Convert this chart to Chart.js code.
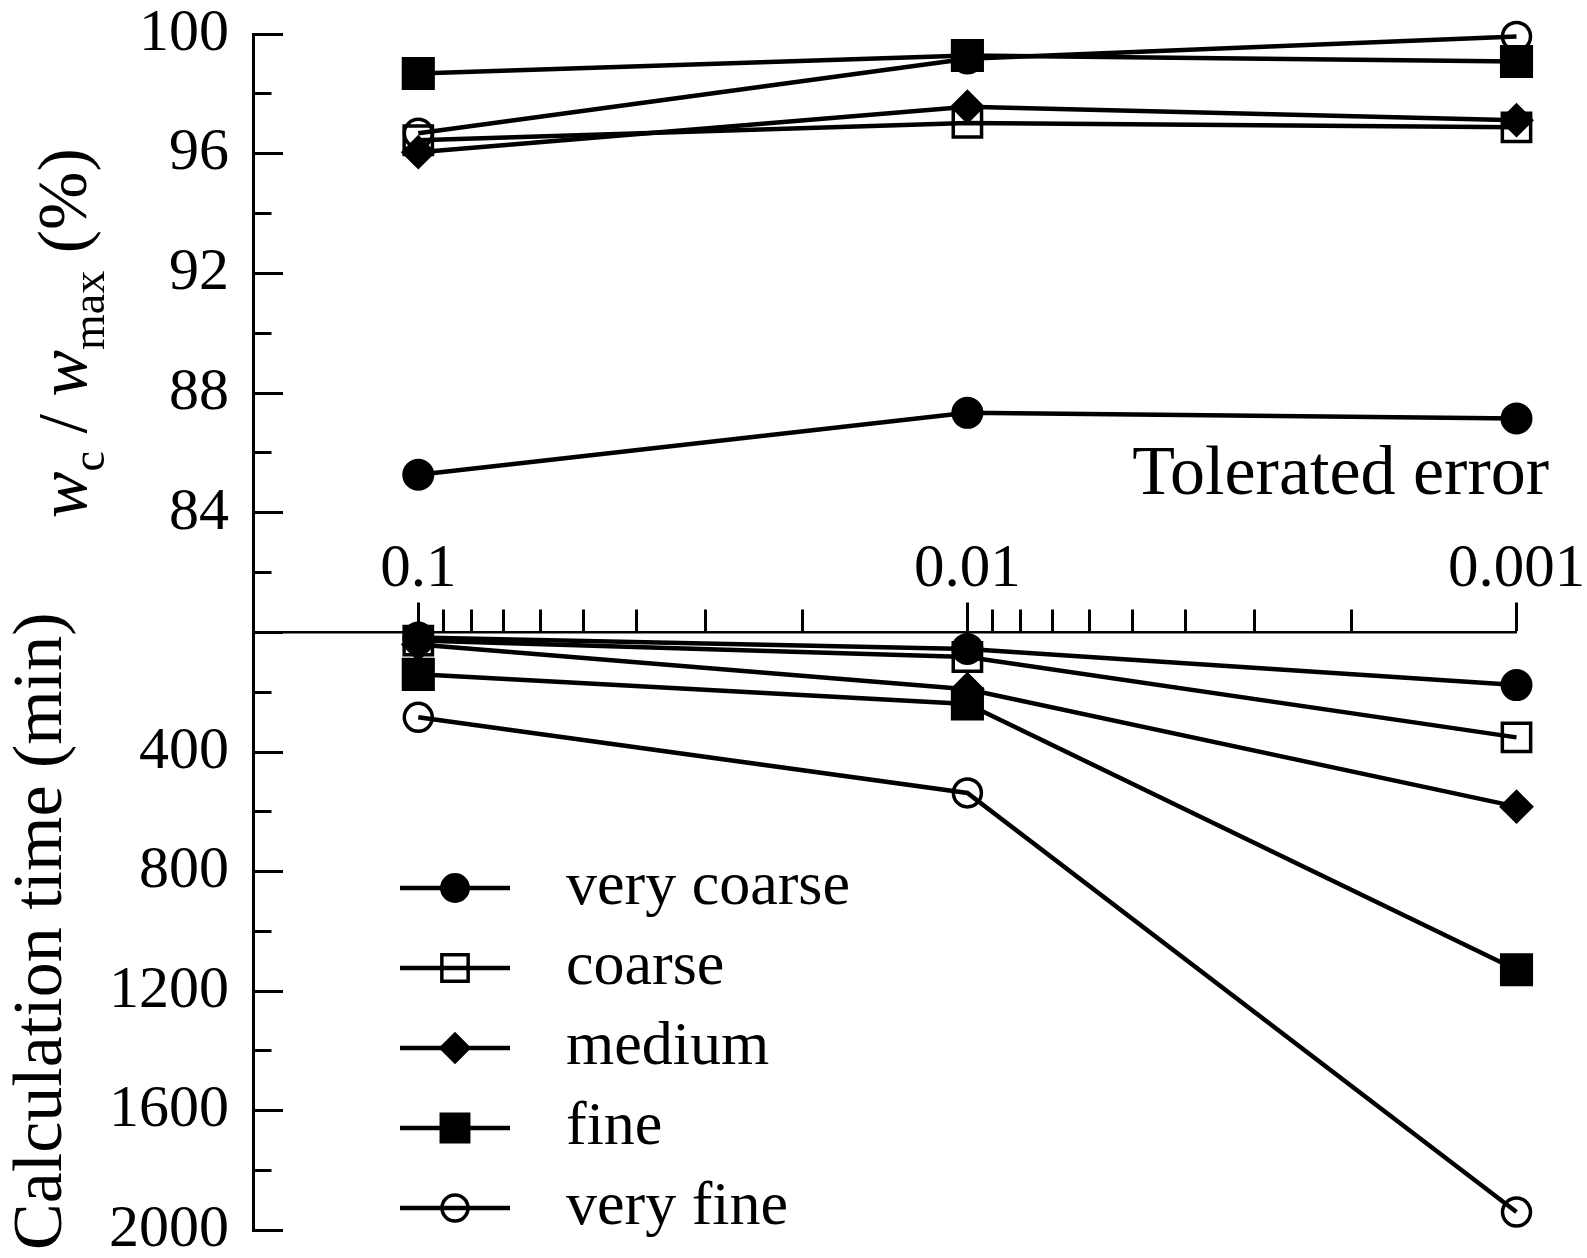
<!DOCTYPE html>
<html>
<head>
<meta charset="utf-8">
<script src="https://cdn.jsdelivr.net/npm/chart.js@4.4.1/dist/chart.umd.min.js"></script>
<style>
html, body { margin: 0; padding: 0; background: #fff; }
#wrap { position: relative; width: 1587px; height: 1258px; overflow: hidden; background: #fff; }
#wrap canvas { position: absolute; }
</style>
</head>
<body>
<div id="wrap">
  <canvas id="cB" width="1587" height="1258" style="left:0;top:0;"></canvas>
  <canvas id="cA" width="1587" height="1258" style="left:0;top:0;"></canvas>
  <canvas id="cL" width="1100" height="440" style="left:382px;top:839px;"></canvas>
</div>
<script>
// ---------------- data ----------------
const errors = [0.1, 0.01, 0.001];
const seriesNames = ['very coarse', 'coarse', 'medium', 'fine', 'very fine'];

// w_c / w_max (%)
const ratioVeryCoarse = [85.27, 87.34, 87.15];
const ratioCoarse     = [96.45, 97.03, 96.88];
const ratioMedium     = [96.05, 97.57, 97.12];
const ratioFine       = [98.68, 99.28, 99.08];
const ratioVeryFine   = [96.68, 99.17, 99.92];

// Calculation time (min)
const timeVeryCoarse = [17, 55, 176];
const timeCoarse     = [27, 82, 351];
const timeMedium     = [40, 190, 583];
const timeFine       = [140, 239, 1129];
const timeVeryFine   = [284, 537, 1940];

// tick values / labels
const xTickValues = [0.1, 0.09, 0.08, 0.07, 0.06, 0.05, 0.04, 0.03, 0.02,
                     0.01, 0.009, 0.008, 0.007, 0.006, 0.005, 0.004, 0.003, 0.002, 0.001];
const xTickLabels = ['0.1', '0.01', '0.001'];
const ratioTickLabels = [84, 88, 92, 96, 100];
const timeTickLabels = [400, 800, 1200, 1600, 2000];

const xTitle = 'Tolerated error';
const timeTitle = 'Calculation time (min)';
const ratioTitleParts = [
  { text: 'w',    italic: true,  sub: false },
  { text: 'c',    italic: false, sub: true  },
  { text: ' / ',  italic: false, sub: false },
  { text: 'w',    italic: true,  sub: false },
  { text: 'max',  italic: false, sub: true  },
  { text: ' (%)', italic: false, sub: false }
];

// ---------------- styling ----------------
const FONT = 'Liberation Serif';
Chart.defaults.font.family = FONT;
Chart.defaults.color = '#000';

const markerStyles = [
  { pointStyle: 'circle',  radius: 15, bg: '#000', bw: 2 },
  { pointStyle: 'rect',    radius: 20, bg: 'rgba(0,0,0,0)', bw: 3.5 },
  { pointStyle: 'rectRot', radius: 16, bg: '#000', bw: 2 },
  { pointStyle: 'rect',    radius: 22, bg: '#000', bw: 2 },
  { pointStyle: 'circle',  radius: 14, bg: 'rgba(0,0,0,0)', bw: 3.5 }
];
const LINE_W = 4.5;

function buildDatasets(lists) {
  return seriesNames.map((name, i) => ({
    label: name,
    xAxisID: 'x',
    yAxisID: 'y',
    data: errors.map((e, j) => ({ x: e, y: lists[i][j] })),
    borderColor: '#000',
    borderWidth: LINE_W,
    pointStyle: markerStyles[i].pointStyle,
    pointRadius: markerStyles[i].radius,
    pointHoverRadius: markerStyles[i].radius,
    pointBackgroundColor: markerStyles[i].bg,
    pointBorderColor: '#000',
    pointBorderWidth: markerStyles[i].bw,
    fill: false,
    tension: 0,
    clip: false
  }));
}

const near = (a, b) => Math.abs(a - b) < 1e-9 * Math.max(1, Math.abs(b));
const xIsMajor = v => errors.some(e => near(v, e));

// rich (subscript) title for the top y axis
const richTitlePlugin = {
  id: 'richTitle',
  afterDraw(chart) {
    const ctx = chart.ctx;
    const ys = chart.scales.y;
    const cy = (ys.top + ys.bottom) / 2;
    const baseX = 86;
    ctx.save();
    ctx.translate(baseX, cy);
    ctx.rotate(-Math.PI / 2);
    ctx.fillStyle = '#000';
    ctx.textAlign = 'left';
    ctx.textBaseline = 'alphabetic';
    const fontFor = p => (p.italic ? 'italic ' : '') + (p.sub ? 46 : 70) + 'px "' + FONT + '"';
    let total = 0;
    const widths = ratioTitleParts.map(p => { ctx.font = fontFor(p); const w = ctx.measureText(p.text).width; total += w; return w; });
    let x = -total / 2;
    ratioTitleParts.forEach((p, i) => {
      ctx.font = fontFor(p);
      ctx.fillText(p.text, x, p.sub ? 18 : 0);
      x += widths[i];
    });
    ctx.restore();
  }
};

const tickFont = { family: FONT, size: 60 };

// ---------------- bottom chart (calculation time) ----------------
new Chart(document.getElementById('cB'), {
  type: 'line',
  data: { datasets: buildDatasets([timeVeryCoarse, timeCoarse, timeMedium, timeFine, timeVeryFine]) },
  options: {
    responsive: false, animation: false, devicePixelRatio: 1,
    layout: { padding: { top: 0, right: 38, bottom: 28, left: 0 }, autoPadding: false },
    plugins: { legend: { display: false }, tooltip: { enabled: false } },
    scales: {
      x: {
        type: 'logarithmic', position: 'top', weight: 0, min: 0.001, max: 0.2, reverse: true,
        afterBuildTicks: s => { s.ticks = xTickValues.map(v => ({ value: v })); },
        ticks: {
          autoSkip: false, maxRotation: 0, minRotation: 0, padding: -4,
          font: { family: FONT, size: 61 }, color: '#000',
          callback: v => { const k = errors.findIndex(e => near(v, e)); return k >= 0 ? xTickLabels[k] : ''; }
        },
        grid: {
          display: true, drawOnChartArea: false, drawTicks: true,
          tickLength: 30, tickWidth: 3, tickColor: '#000',
          tickBorderDash: ctx => (ctx.tick && xIsMajor(ctx.tick.value)) ? [] : [0, 7, 200, 0]
        },
        border: { display: true, color: '#000', width: 2.5 },
        afterFit: s => { s.height = 112.5; s.paddingLeft = 0; s.paddingRight = 0; }
      },
      y: {
        type: 'linear', position: 'left', min: 0, max: 2000, reverse: true,
        ticks: {
          stepSize: 200, autoSkip: false, padding: 54, font: tickFont, color: '#000',
          callback: v => timeTickLabels.includes(v) ? String(v) : ''
        },
        grid: {
          display: true, drawOnChartArea: false, drawTicks: true,
          tickLength: -30, tickWidth: 3, tickColor: '#000',
          tickBorderDash: ctx => (ctx.tick && ctx.tick.value % 400 === 0) ? [] : [0, 11.5, 200, 0]
        },
        border: { display: true, color: '#000', width: 3 },
        title: {
          display: true, text: timeTitle, color: '#000',
          font: { family: FONT, size: 70 }, padding: { top: 1, bottom: 0 }
        },
        afterFit: s => { s.width = 253; s.paddingTop = 0; s.paddingBottom = 0; }
      },
      // carrier of the x-axis title (full width, right aligned)
      xt: {
        type: 'linear', axis: 'x', position: 'top', fullSize: true, weight: 10, display: true,
        ticks: { display: false },
        grid: { display: false, drawTicks: false },
        border: { display: false },
        title: {
          display: true, text: xTitle, align: 'end', color: '#000',
          font: { family: FONT, size: 70 }, padding: { top: 434, bottom: 0 }
        },
        afterFit: s => { s.height = 520; s.paddingLeft = 0; s.paddingRight = 0; }
      },
      // right-hand spacer so the plot ends at 0.001
      yr: {
        type: 'linear', axis: 'y', position: 'right', display: true,
        ticks: { display: false },
        grid: { display: false, drawTicks: false },
        border: { display: false },
        afterFit: s => { s.width = 32.5; s.paddingTop = 0; s.paddingBottom = 0; }
      }
    }
  }
});

// ---------------- top chart (w_c / w_max) ----------------
new Chart(document.getElementById('cA'), {
  type: 'line',
  data: { datasets: buildDatasets([ratioVeryCoarse, ratioCoarse, ratioMedium, ratioFine, ratioVeryFine]) },
  options: {
    responsive: false, animation: false, devicePixelRatio: 1,
    layout: { padding: { top: 34, right: 70.5, bottom: 625.5, left: 0 }, autoPadding: false },
    plugins: { legend: { display: false }, tooltip: { enabled: false } },
    scales: {
      x: { type: 'logarithmic', min: 0.001, max: 0.2, reverse: true, display: false },
      y: {
        type: 'linear', position: 'left', min: 80, max: 100,
        ticks: {
          stepSize: 2, autoSkip: false, padding: 54, font: tickFont, color: '#000',
          callback: v => ratioTickLabels.includes(v) ? String(v) : ''
        },
        grid: {
          display: true, drawOnChartArea: false, drawTicks: true,
          tickLength: -30, tickWidth: 3, tickColor: '#000',
          tickBorderDash: ctx => (ctx.tick && ctx.tick.value % 4 === 0) ? [] : [0, 11.5, 200, 0]
        },
        border: { display: true, color: '#000', width: 3 },
        title: { display: false, text: 'wc / wmax (%)' },
        afterFit: s => { s.width = 253; s.paddingTop = 0; s.paddingBottom = 0; }
      }
    }
  },
  plugins: [richTitlePlugin]
});

// ---------------- legend ----------------
function legendImage(st) {
  const c = document.createElement('canvas');
  c.width = 135; c.height = 44;
  const g = c.getContext('2d');
  g.strokeStyle = '#000'; g.lineWidth = LINE_W;
  g.beginPath(); g.moveTo(0, 22); g.lineTo(110, 22); g.stroke();
  g.fillStyle = st.bg; g.strokeStyle = '#000'; g.lineWidth = st.bw;
  Chart.helpers.drawPoint(g, { pointStyle: st.pointStyle, radius: st.radius * 0.93, borderWidth: st.bw, rotation: 0 }, 55, 22);
  return c;
}
const legendImages = markerStyles.map(legendImage);

new Chart(document.getElementById('cL'), {
  type: 'line',
  data: { datasets: seriesNames.map(n => ({ label: n, data: [] })) },
  options: {
    responsive: false, animation: false, devicePixelRatio: 1,
    layout: { padding: 0 },
    scales: { x: { display: false }, y: { display: false } },
    plugins: {
      tooltip: { enabled: false },
      legend: {
        position: 'left', align: 'start',
        labels: {
          usePointStyle: true, pointStyleWidth: 135, padding: 18,
          font: { family: FONT, size: 62 }, color: '#000',
          generateLabels: () => seriesNames.map((n, i) => ({
            text: n, pointStyle: legendImages[i], fillStyle: '#000', strokeStyle: '#000',
            lineWidth: 0, hidden: false, datasetIndex: i, fontColor: '#000'
          }))
        }
      }
    }
  }
});
</script>
</body>
</html>
